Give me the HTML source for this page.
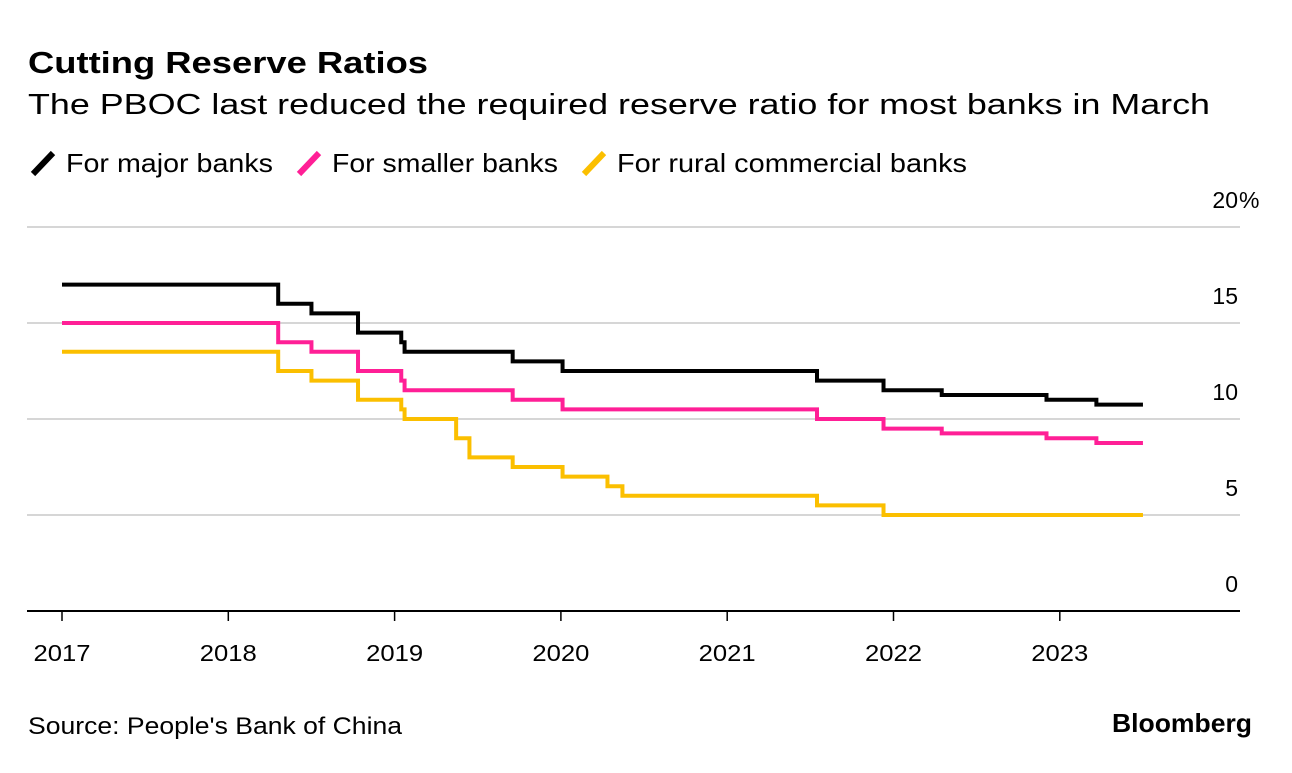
<!DOCTYPE html>
<html><head><meta charset="utf-8"><style>
body{margin:0;background:#fff;font-family:"Liberation Sans",sans-serif;}
</style></head><body>
<svg id="c" width="1292" height="768" xmlns="http://www.w3.org/2000/svg" font-family="Liberation Sans, sans-serif">
<text x="28" y="73" font-size="31" font-weight="bold" fill="#000" textLength="400" lengthAdjust="spacingAndGlyphs">Cutting Reserve Ratios</text>
<text x="28" y="114" font-size="29" fill="#000" textLength="1182" lengthAdjust="spacingAndGlyphs">The PBOC last reduced the required reserve ratio for most banks in March</text>
<g id="legend"></g>
<g id="grid"></g>
<g id="series"></g>
<g id="xaxis"></g>
<text x="28" y="734" font-size="24" fill="#000" textLength="374" lengthAdjust="spacingAndGlyphs">Source: People's Bank of China</text>
<text x="1252" y="732" font-size="26" font-weight="bold" fill="#000" text-anchor="end" textLength="140" lengthAdjust="spacingAndGlyphs">Bloomberg</text>
</svg>
<script>
const yTicks=[0,5,10,15,20];
const yTickLabels=["0","5","10","15","20"];
const xTicks=[2017,2018,2019,2020,2021,2022,2023];
const seriesNames=["For major banks","For smaller banks","For rural commercial banks"];
const seriesColors=["#000000","#ff1f96","#fbbf00"];
const endDate=2023.5;
const majorDates=[2017,2018.30,2018.50,2018.78,2019.04,2019.06,2019.71,2020.01,2021.54,2021.94,2022.29,2022.92,2023.22];
const majorValues=[17,16,15.5,14.5,14,13.5,13,12.5,12,11.5,11.25,11,10.75];
const smallDates=[2017,2018.30,2018.50,2018.78,2019.04,2019.06,2019.71,2020.01,2021.54,2021.94,2022.29,2022.92,2023.22];
const smallValues=[15,14,13.5,12.5,12,11.5,11,10.5,10,9.5,9.25,9,8.75];
const ruralDates=[2017,2018.30,2018.50,2018.78,2019.04,2019.06,2019.37,2019.45,2019.71,2020.01,2020.28,2020.37,2021.54,2021.94];
const ruralValues=[13.5,12.5,12,11,10.5,10,9,8,7.5,7,6.5,6,5.5,5];

const NS="http://www.w3.org/2000/svg";
function X(t){return 62+(t-2017)*166.3;}
function Y(v){return 611-v*19.2;}
function mk(tag,attrs,parent){const e=document.createElementNS(NS,tag);for(const k in attrs)e.setAttribute(k,attrs[k]);parent.appendChild(e);return e;}

const grid=document.getElementById('grid');
yTicks.forEach((v,i)=>{
  if(v>0){const l=mk('line',{x1:27,x2:1240,y1:Y(v),y2:Y(v),stroke:'#d6d6d6','stroke-width':2},grid);
  
  }
  const t=mk('text',{x:1238,y:Y(v)-19,'font-size':23,'text-anchor':'end',fill:'#000'},grid);
  
  
  t.textContent=yTickLabels[i];
  if(i===yTicks.length-1){
    const pc=mk('text',{x:1239,y:Y(v)-19,'font-size':23,fill:'#000'},grid);
    
    
    pc.textContent='%';
  }
});
const xa=document.getElementById('xaxis');
const base=mk('line',{x1:27,x2:1240,y1:611,y2:611,stroke:'#000','stroke-width':2},xa);


xTicks.forEach(t=>{
  const tk=mk('line',{x1:X(t),x2:X(t),y1:611,y2:621,stroke:'#000','stroke-width':1.5},xa);
  
  
  const lb=mk('text',{x:X(t),y:661,'font-size':23,'text-anchor':'middle',fill:'#000',textLength:57,lengthAdjust:'spacingAndGlyphs'},xa);
  
  
  lb.textContent=t;
});
const sg=document.getElementById('series');
[[majorDates,majorValues],[smallDates,smallValues],[ruralDates,ruralValues]].slice().reverse().forEach((s,ri)=>{
  const i=2-ri;const d=s[0],v=s[1];
  let p='M'+X(d[0])+','+Y(v[0]);
  for(let k=1;k<d.length;k++){p+=' H'+X(d[k])+' V'+Y(v[k]);}
  p+=' H'+X(endDate);
  const path=mk('path',{d:p,fill:'none',stroke:seriesColors[i],'stroke-width':4},sg);
  
  
});
const lg=document.getElementById('legend');
const lx=[30,296,581];
const lw=[207,226,350];
seriesNames.forEach((n,i)=>{
  const sw=mk('line',{x1:lx[i]+3,y1:174,x2:lx[i]+23,y2:153,stroke:seriesColors[i],'stroke-width':6},lg);
  
  
  const t=mk('text',{x:lx[i]+36,y:172,'font-size':26,fill:'#000',textLength:lw[i],lengthAdjust:'spacingAndGlyphs'},lg);
  
  
  t.textContent=n;
});
</script>
</body></html>
